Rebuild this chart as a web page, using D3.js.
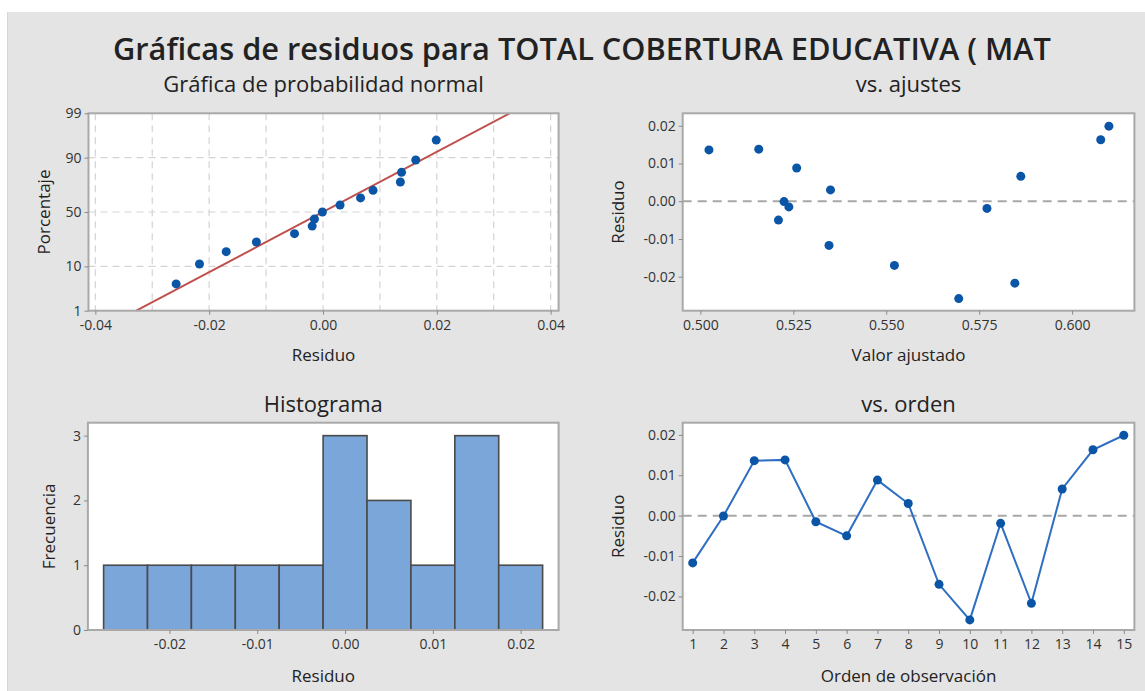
<!DOCTYPE html>
<html>
<head>
<meta charset="utf-8">
<script src="https://cdn.jsdelivr.net/npm/d3@7"></script>
<style>
  body { margin: 0; background: #fff; }
  text { font-family: "Open Sans", "Noto Sans", sans-serif; fill: #222; }
  .tick text { font-size: 14px; fill: #333; }
  .axis path { display: none; }
  .axis line { stroke: #8a8a8a; }
</style>
</head>
<body>
<div id="chart"></div>
<script>
const width = 1145;
const height = 691;

// Residuos por orden de observación
const obsOrder = [1, 2, 3, 4, 5, 6, 7, 8, 9, 10, 11, 12, 13, 14, 15];
const residuals = [-0.0117, -0.0001, 0.0136, 0.0138, -0.0015, -0.0050, 0.0088, 0.0030,
	-0.0170, -0.0258, -0.0019, -0.0217, 0.0066, 0.0163, 0.0199];
const fitted = [0.5346, 0.5225, 0.5023, 0.5157, 0.5238, 0.5210, 0.5259, 0.5350,
	0.5522, 0.5695, 0.5771, 0.5846, 0.5862, 0.6077, 0.6099];

// Porcentajes de la gráfica de probabilidad (residuos ordenados)
const probPct = [4.5, 11.0, 17.5, 24.0, 30.5, 37.0, 43.5, 50.0, 56.5, 63.0, 69.5, 76.0, 82.5, 89.0, 95.5];
const fitMean = 0.0000;
const fitSd = 0.0141;
const probTicks = [1, 10, 50, 90, 99];
const probGridX = [-0.04, -0.03, -0.02, -0.01, 0, 0.01, 0.02, 0.03, 0.04];
const probTicksX = [-0.04, -0.02, 0, 0.02, 0.04];

// Histograma
const binCenters = [-0.025, -0.02, -0.015, -0.01, -0.005, 0, 0.005, 0.01, 0.015, 0.02];
const binCounts = [1, 1, 1, 1, 1, 3, 2, 1, 3, 1];
const binWidth = 0.005;

const blue = "#0b55a7";
const loc = d3.formatLocale({ decimal: ".", thousands: ",", grouping: [3], currency: ["", ""], minus: "-" });

const svg = d3.select("#chart")
	.append("svg")
	.attr("width", width)
	.attr("height", height);

// fondo gris
svg.append("rect").attr("x", 7).attr("y", 12).attr("width", width - 7).attr("height", height - 12)
	.attr("fill", "#e4e4e4");
svg.append("line").attr("x1", 7.5).attr("x2", 7.5).attr("y1", 12).attr("y2", height)
	.attr("stroke", "#d6d6d6");

svg.append("text")
	.attr("x", 582).attr("y", 60)
	.attr("text-anchor", "middle")
	.attr("font-size", 30).attr("font-weight", 600)
	.attr("textLength", 938).attr("lengthAdjust", "spacingAndGlyphs")
	.text("Gráficas de residuos para TOTAL COBERTURA EDUCATIVA ( MAT");

// aproximación de la inversa de la normal (Acklam)
function probit(p) {
	const a = [-39.69683028665376, 220.9460984245205, -275.9285104469687, 138.3577518672690, -30.66479806614716, 2.506628277459239];
	const b = [-54.47609879822406, 161.5858368580409, -155.6989798598866, 66.80131188771972, -13.28068155288572];
	const c = [-0.007784894002430293, -0.3223964580411365, -2.400758277161838, -2.549732539343734, 4.374664141464968, 2.938163982698783];
	const d = [0.007784695709041462, 0.3224671290700398, 2.445134137142996, 3.754408661907416];
	const pl = 0.02425;
	let q, r;
	if (p < pl) {
		q = Math.sqrt(-2 * Math.log(p));
		return (((((c[0] * q + c[1]) * q + c[2]) * q + c[3]) * q + c[4]) * q + c[5]) /
			((((d[0] * q + d[1]) * q + d[2]) * q + d[3]) * q + 1);
	}
	if (p > 1 - pl) {
		q = Math.sqrt(-2 * Math.log(1 - p));
		return -(((((c[0] * q + c[1]) * q + c[2]) * q + c[3]) * q + c[4]) * q + c[5]) /
			((((d[0] * q + d[1]) * q + d[2]) * q + d[3]) * q + 1);
	}
	q = p - 0.5;
	r = q * q;
	return (((((a[0] * r + a[1]) * r + a[2]) * r + a[3]) * r + a[4]) * r + a[5]) * q /
		(((((b[0] * r + b[1]) * r + b[2]) * r + b[3]) * r + b[4]) * r + 1);
}

function panel(box, title, titleY, xLabel, yLabel, labelY, yLabelX) {
	const g = svg.append("g");
	g.append("rect")
		.attr("x", box.x0).attr("y", box.y0)
		.attr("width", box.x1 - box.x0).attr("height", box.y1 - box.y0)
		.attr("fill", "#fff");
	g.append("text")
		.attr("x", (box.x0 + box.x1) / 2).attr("y", titleY)
		.attr("text-anchor", "middle").attr("font-size", 22)
		.text(title);
	g.append("text")
		.attr("x", (box.x0 + box.x1) / 2).attr("y", labelY)
		.attr("text-anchor", "middle").attr("font-size", 17)
		.text(xLabel);
	g.append("text")
		.attr("transform", `translate(${yLabelX},${(box.y0 + box.y1) / 2}) rotate(-90)`)
		.attr("text-anchor", "middle").attr("font-size", 17)
		.text(yLabel);
	return g;
}

function frame(g, box) {
	g.append("rect")
		.attr("x", box.x0).attr("y", box.y0)
		.attr("width", box.x1 - box.x0).attr("height", box.y1 - box.y0)
		.attr("fill", "none").attr("stroke", "#a9a9a9").attr("stroke-width", 2);
}

function axes(g, box, x, y, xt, yt, xf, yf) {
	g.append("g").attr("class", "axis")
		.attr("transform", `translate(0,${box.y1})`)
		.call(d3.axisBottom(x).tickValues(xt).tickFormat(xf).tickSize(4).tickPadding(5));
	g.append("g").attr("class", "axis")
		.attr("transform", `translate(${box.x0},0)`)
		.call(d3.axisLeft(y).tickValues(yt).tickFormat(yf).tickSize(4).tickPadding(3));
}

const fmt2 = loc.format(".2f");

// ---- Gráfica de probabilidad normal
{
	const box = { x0: 88.5, x1: 558.6, y0: 113.3, y1: 310.7 };
	const g = panel(box, "Gráfica de probabilidad normal", 92, "Residuo", "Porcentaje", 361, 50);
	const x = d3.scaleLinear().domain([-0.0412, 0.0414]).range([box.x0, box.x1]);
	const ys = d3.scaleLinear().domain([probit(0.01), probit(0.99)]).range([box.y1, box.y0]);
	const y = p => ys(probit(p / 100));

	g.append("g").selectAll("line.gx").data(probGridX).enter().append("line")
		.attr("x1", d => x(d)).attr("x2", d => x(d))
		.attr("y1", box.y0).attr("y2", box.y1)
		.attr("stroke", "#d4d4d4").attr("stroke-width", 1.2).attr("stroke-dasharray", "7,5");
	g.append("g").selectAll("line.gy").data([10, 50, 90]).enter().append("line")
		.attr("x1", box.x0).attr("x2", box.x1)
		.attr("y1", d => y(d)).attr("y2", d => y(d))
		.attr("stroke", "#d4d4d4").attr("stroke-width", 1.2).attr("stroke-dasharray", "7,5");

	g.append("line")
		.attr("x1", x(fitMean + fitSd * probit(0.01))).attr("y1", y(1))
		.attr("x2", x(fitMean + fitSd * probit(0.99))).attr("y2", y(99))
		.attr("stroke", "#c0504d").attr("stroke-width", 2);

	const sorted = residuals.slice().sort(d3.ascending);
	g.append("g").selectAll("circle").data(sorted).enter().append("circle")
		.attr("cx", d => x(d)).attr("cy", (d, i) => y(probPct[i]))
		.attr("r", 4.5).attr("fill", blue);

	frame(g, box);
	axes(g, box, x, ys, probTicksX, probTicks.map(p => probit(p / 100)), fmt2,
		(d, i) => probTicks[i]);
}

// ---- vs. ajustes
{
	const box = { x0: 682.7, x1: 1134.4, y0: 113.3, y1: 310.7 };
	const g = panel(box, "vs. ajustes", 92, "Valor ajustado", "Residuo", 361, 624);
	const x = d3.scaleLinear().domain([0.49524, 0.61676]).range([box.x0, box.x1]);
	const y = d3.scaleLinear().domain([-0.0290, 0.0233]).range([box.y1, box.y0]);
	g.append("line")
		.attr("x1", box.x0).attr("x2", box.x1).attr("y1", y(0)).attr("y2", y(0))
		.attr("stroke", "#a8a8a8").attr("stroke-width", 2).attr("stroke-dasharray", "9,6");
	g.append("g").selectAll("circle").data(residuals).enter().append("circle")
		.attr("cx", (d, i) => x(fitted[i])).attr("cy", d => y(d))
		.attr("r", 4.5).attr("fill", blue);
	frame(g, box);
	axes(g, box, x, y, [0.5, 0.525, 0.55, 0.575, 0.6], [-0.02, -0.01, 0, 0.01, 0.02],
		loc.format(".3f"), fmt2);
}

// ---- Histograma
{
	const box = { x0: 87.9, x1: 558.6, y0: 422.7, y1: 630 };
	const g = panel(box, "Histograma", 412, "Residuo", "Frecuencia", 682, 55);
	const x = d3.scaleLinear().domain([-0.02929, 0.02432]).range([box.x0, box.x1]);
	const y = d3.scaleLinear().domain([0, 3.2]).range([box.y1, box.y0]);
	g.append("g").selectAll("rect").data(binCenters).enter().append("rect")
		.attr("x", d => x(d - binWidth / 2))
		.attr("width", x(binWidth) - x(0))
		.attr("y", (d, i) => y(binCounts[i]))
		.attr("height", (d, i) => y(0) - y(binCounts[i]))
		.attr("fill", "#7ba6da").attr("stroke", "#4a4a4a").attr("stroke-width", 1.6);
	frame(g, box);
	axes(g, box, x, y, [-0.02, -0.01, 0, 0.01, 0.02], [0, 1, 2, 3], fmt2, d3.format("d"));
}

// ---- vs. orden
{
	const box = { x0: 682.7, x1: 1134.4, y0: 422.7, y1: 630 };
	const g = panel(box, "vs. orden", 412, "Orden de observación", "Residuo", 682, 624);
	const x = d3.scaleLinear().domain([0.676, 15.345]).range([box.x0, box.x1]);
	const y = d3.scaleLinear().domain([-0.0283, 0.0230]).range([box.y1, box.y0]);
	g.append("line")
		.attr("x1", box.x0).attr("x2", box.x1).attr("y1", y(0)).attr("y2", y(0))
		.attr("stroke", "#a8a8a8").attr("stroke-width", 2).attr("stroke-dasharray", "9,6");
	const line = d3.line().x((d, i) => x(obsOrder[i])).y(d => y(d));
	g.append("path").datum(residuals)
		.attr("d", line).attr("fill", "none")
		.attr("stroke", "#2f6fc1").attr("stroke-width", 2);
	g.append("g").selectAll("circle").data(residuals).enter().append("circle")
		.attr("cx", (d, i) => x(obsOrder[i])).attr("cy", d => y(d))
		.attr("r", 4.5).attr("fill", blue);
	frame(g, box);
	axes(g, box, x, y, obsOrder, [-0.02, -0.01, 0, 0.01, 0.02], d3.format("d"), fmt2);
}
</script>
</body>
</html>
